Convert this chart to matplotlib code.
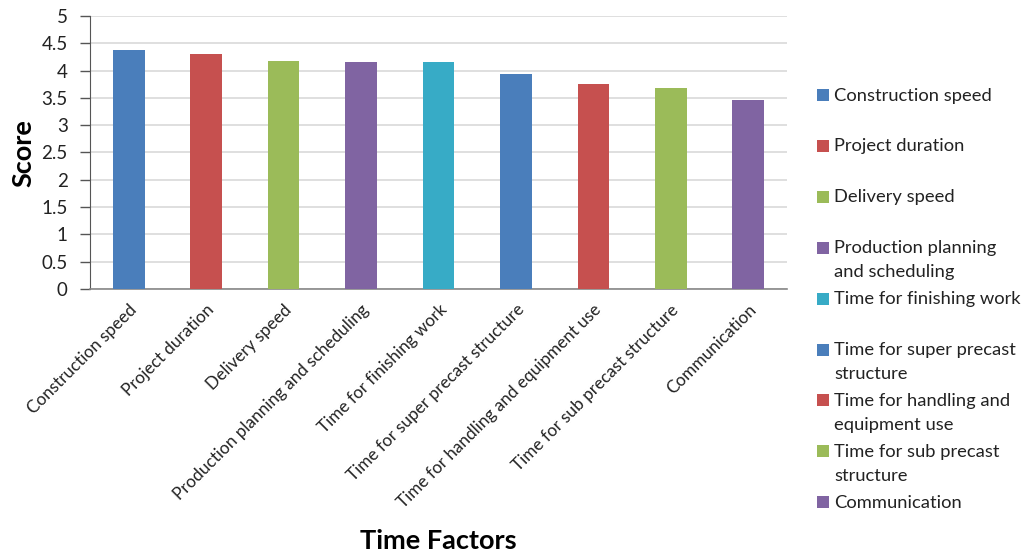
import matplotlib
matplotlib.use("Agg")
import matplotlib.pyplot as plt
from matplotlib.patches import Rectangle

categories = [
    "Construction speed",
    "Project duration",
    "Delivery speed",
    "Production planning and scheduling",
    "Time for finishing work",
    "Time for super precast structure",
    "Time for handling and equipment use",
    "Time for sub precast structure",
    "Communication",
]
legend_labels = [
    "Construction speed",
    "Project duration",
    "Delivery speed",
    "Production planning\nand scheduling",
    "Time for finishing work",
    "Time for super precast\nstructure",
    "Time for handling and\nequipment use",
    "Time for sub precast\nstructure",
    "Communication",
]
scores = [4.38, 4.30, 4.17, 4.16, 4.16, 3.94, 3.75, 3.68, 3.47]
colors = ["#4A7EBB", "#C6504F", "#9BBB59", "#8064A2", "#37ABC6",
          "#4A7EBB", "#C6504F", "#9BBB59", "#8064A2"]
y_ticks = [0, 0.5, 1, 1.5, 2, 2.5, 3, 3.5, 4, 4.5, 5]
y_tick_labels = ["0", "0.5", "1", "1.5", "2", "2.5", "3", "3.5", "4", "4.5", "5"]

plt.rcParams["font.family"] = ["Lato", "DejaVu Sans"]

W, H = 1026, 558
fig = plt.figure(figsize=(W / 100, H / 100), dpi=100)
# plot area: x 90..787 px, y 16..289 px (top-down)
ax = fig.add_axes([90 / W, 1 - 289 / H, (787 - 90) / W, (289 - 16) / H])

x = list(range(len(categories)))
ax.bar(x, scores, width=0.41, color=colors, zorder=3)

ax.set_xlim(-0.5, len(categories) - 0.5)
ax.set_ylim(0, 5)
ax.set_yticks(y_ticks)
ax.set_yticklabels(y_tick_labels, fontsize=13.5, color="#222222")
ax.set_xticks(x)
ax.set_xticklabels(categories, rotation=45, ha="right", va="top",
                   rotation_mode="anchor", fontsize=12.3, color="#222222")
ax.tick_params(axis="x", length=0, pad=9)
ax.tick_params(axis="y", length=7, width=1, color="#555555", pad=9)

ax.grid(axis="y", color="#D9D9D9", linewidth=1.2, zorder=0)
for side in ("top", "right"):
    ax.spines[side].set_visible(False)
ax.spines["left"].set_color("#555555")
ax.spines["bottom"].set_color("#888888")
ax.spines["bottom"].set_linewidth(1.2)

fig.text(23 / W, 1 - 153 / H, "Score", rotation=90, fontsize=19.5,
         fontweight="bold", ha="center", va="center")
fig.text(438 / W, 1 - 541 / H, "Time Factors", fontsize=19.5,
         fontweight="bold", ha="center", va="center")

# legend, one slot per series
for i, (lab, c) in enumerate(zip(legend_labels, colors)):
    yc = 95 + 50.9 * i
    fig.patches.append(Rectangle((817 / W, 1 - (yc + 6) / H), 12 / W, 12 / H,
                                 transform=fig.transFigure, facecolor=c,
                                 edgecolor="none"))
    fig.text(834 / W, 1 - (yc - 7.5) / H, lab, fontsize=13.2, ha="left",
             va="top", linespacing=1.6, color="#222222")

fig.savefig("out.png", dpi=100, facecolor="white")
